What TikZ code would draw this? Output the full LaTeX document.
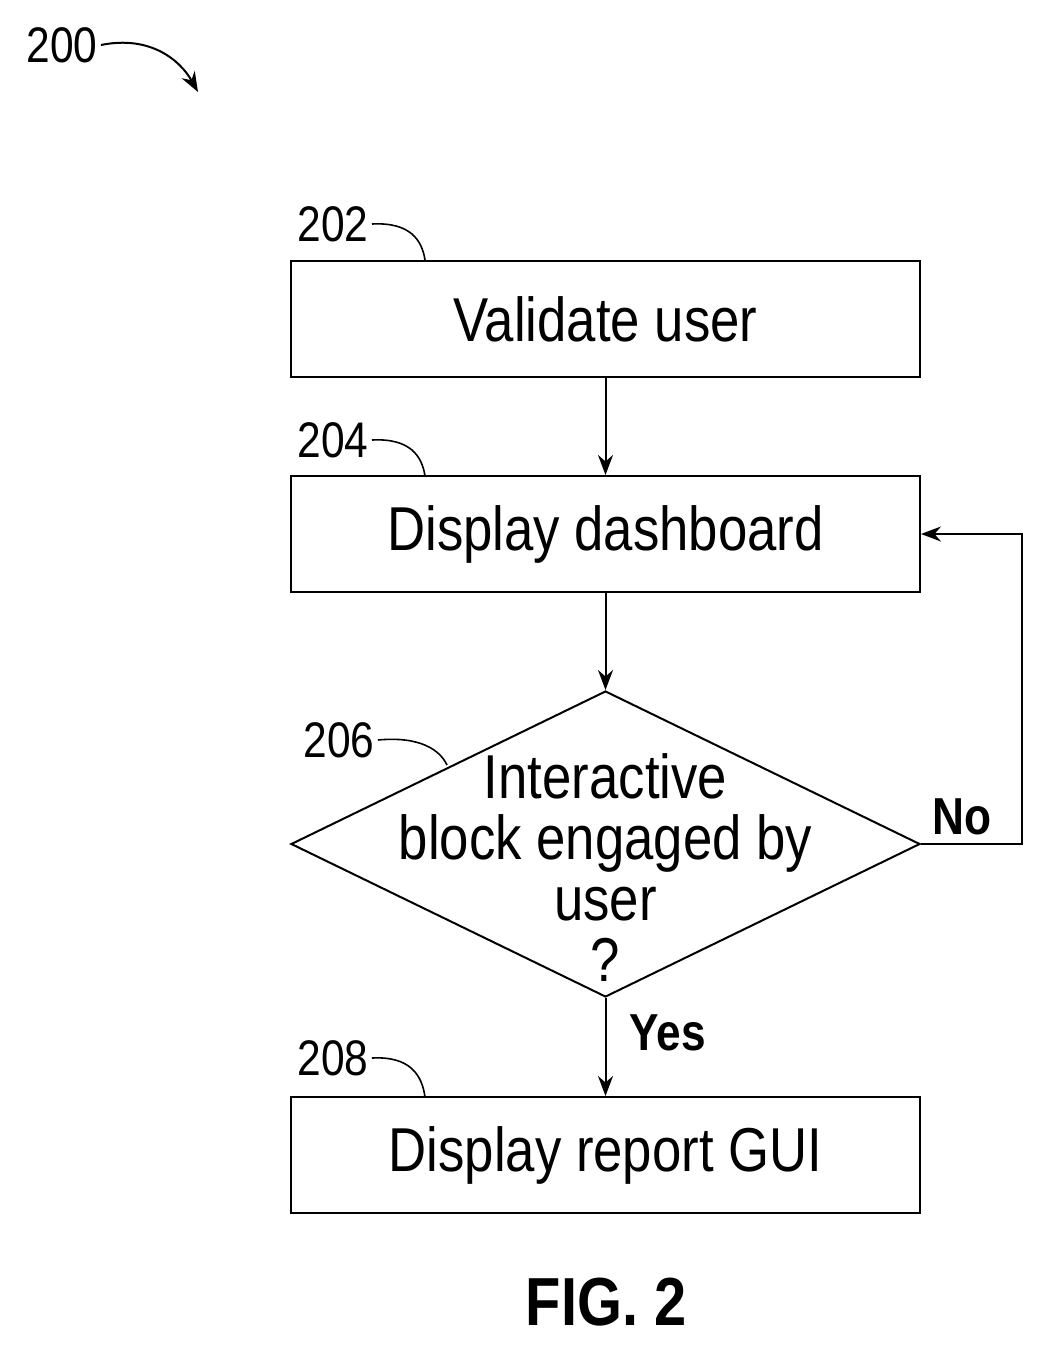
\documentclass[tikz,border=0pt]{standalone}
\usepackage{fontspec}
\setmainfont{Liberation Sans}
\usetikzlibrary{shapes.geometric,arrows.meta}
\begin{document}
\begin{tikzpicture}[x=1pt,y=-1pt,
box/.style={draw=black, line width=2pt, minimum width=629pt, minimum height=116pt, font=\fontsize{62}{68}\selectfont},
ref/.style={font=\fontsize{50}{54}\selectfont},
lead/.style={line width=1.6pt},
flow/.style={line width=2pt,-{Stealth[length=20pt,width=15pt]}},
lbl/.style={font=\bfseries\fontsize{52}{56}\selectfont}
]
\useasboundingbox (0,0) rectangle (1045,1347);
%Nodes
\node[box]  (validate)  at (605.5,319)  {\scalebox{0.85}[1]{Validate user}};
\node[box]  (dash)      at (605.5,534)  {\scalebox{0.85}[1]{Display dashboard}};
\node[draw=black, line width=2pt, diamond, minimum width=629pt, minimum height=306pt, aspect=2.05, inner sep=0pt] (engaged) at (605.5,844) {};
\node[font=\fontsize{62}{61}\selectfont, align=center] (etext) at (605.5,868) {\scalebox{0.85}[1]{Interactive}\\\scalebox{0.85}[1]{block engaged by}\\\scalebox{0.85}[1]{user}\\\scalebox{0.85}[1]{?}};
\node[box]  (report)    at (605.5,1155) {\scalebox{0.85}[1]{Display report GUI}};
%Labels
\node[ref] (n200) at (62,45)   {\scalebox{0.85}[1]{200}};
\node[ref] (n202) at (333,224) {\scalebox{0.85}[1]{202}};
\node[ref] (n204) at (333,440) {\scalebox{0.85}[1]{204}};
\node[ref] (n206) at (339,740) {\scalebox{0.85}[1]{206}};
\node[ref] (n208) at (333,1058) {\scalebox{0.85}[1]{208}};
\node[lbl] (no)  at (962,817)  {\scalebox{0.85}[1]{No}};
\node[lbl] (yes) at (668,1033) {\scalebox{0.85}[1]{Yes}};
\node[font=\bfseries\fontsize{68}{72}\selectfont] (fig) at (606,1302) {\scalebox{0.85}[1]{FIG. 2}};
\coordinate (back) at (1022,844);
%Lines
\draw[lead] (n202.east) .. controls (410,222) and (422,240) .. (425,260);
\draw[lead] (n204.east) .. controls (410,438) and (422,456) .. (425,476);
\draw[lead] (n206.east) .. controls (420,736) and (440,750) .. (447,765);
\draw[lead] (n208.east) .. controls (410,1056) and (422,1075) .. (425,1097);
\draw[flow] (n200.east) .. controls (150,35) and (180,60) .. (198,92);
\draw[flow] (validate) -- (dash);
\draw[flow] (dash) -- (engaged.north);
\draw[flow] (engaged.south) -- (report);
\draw[flow] (engaged.east) -- (back) |- (dash.east);
\end{tikzpicture}
\end{document}
